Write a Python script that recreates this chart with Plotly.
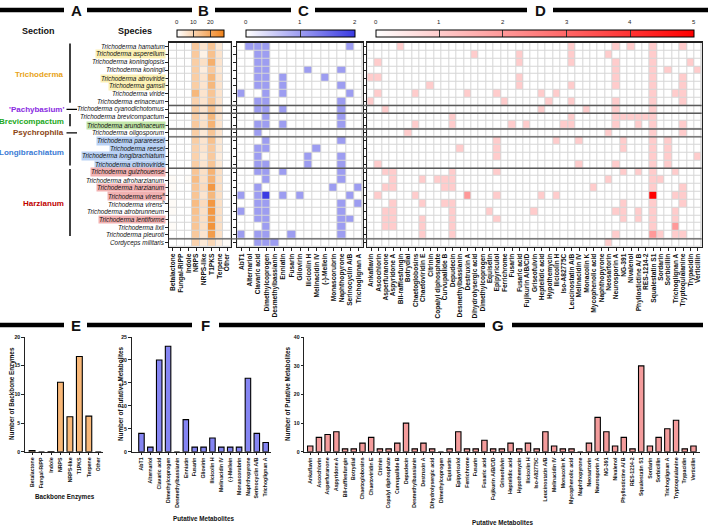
import plotly.graph_objects as go

W, H = 708, 526
def px(x): return x / W
def py(y): return 1 - y / H

FONT = "Liberation Sans, Arial, sans-serif"

# ---------------- data ----------------
species = ["Trichoderma hamatum", "Trichoderma asperellum", "Trichoderma koningiopsis",
           "Trichoderma koningii", "Trichoderma atroviride", "Trichoderma gamsii",
           "Trichoderma viride", "Trichoderma erinaceum", "Trichoderma cyanodichotomus",
           "Trichoderma brevicompactum", "Trichoderma arundinaceum", "Trichoderma oligosporum",
           "Trichoderma parareesei", "Trichoderma reesei", "Trichoderma longibrachiatum",
           "Trichoderma citrinoviride", "Trichoderma guizhouense", "Trichoderma afroharzianum",
           "Trichoderma harzianum", "Trichoderma virens<sup>a</sup>", "Trichoderma virens<sup>b</sup>",
           "Trichoderma atrobrunneum", "Trichoderma lentiforme", "Trichoderma lixii",
           "Trichoderma pleuroti", "Cordyceps militaris"]
highlight = {1: "#FBF0B4", 4: "#FBF0B4", 5: "#FBF0B4", 10: "#C2E6A8",
             12: "#B9D1F4", 13: "#B9D1F4", 14: "#B9D1F4", 15: "#B9D1F4",
             16: "#F2B1B1", 18: "#F2B1B1", 19: "#F2B1B1", 22: "#F2B1B1"}

sections = ["Trichoderma", "'Pachybasium'", "Brevicompactum", "Psychrophila", "Longibrachiatum", "Harzianum"]
section_sizes = [8, 1, 2, 1, 4, 9]
section_colors = ["#E8A317", "#8A2BE2", "#22A822", "#8B4513", "#3A7BD5", "#C00000"]

backbone = ["Betalactone", "Fungal-RiPP", "Indole", "NRPS", "NRPS-like", "T1PKS", "Terpene", "Other"]
backbone_counts = [
    [0, 0, 0, 12, 6, 13, 5, 0], [0, 0, 0, 12, 3, 14, 6, 0], [0, 0, 0, 11, 7, 18, 6, 0],
    [0, 0, 0, 11, 4, 12, 5, 0], [0, 0, 0, 11, 6, 16, 6, 0], [0, 0, 0, 11, 6, 16, 6, 0],
    [0, 0, 0, 16, 6, 13, 6, 0], [0, 0, 0, 10, 6, 13, 6, 0], [0, 0, 0, 11, 6, 14, 6, 0],
    [0, 0, 0, 11, 6, 16, 6, 0], [0, 0, 0, 12, 7, 17, 6, 0], [0, 0, 0, 11, 5, 13, 6, 0],
    [0, 0, 0, 11, 6, 14, 5, 0], [0, 0, 0, 10, 6, 12, 5, 0], [0, 0, 0, 10, 5, 12, 4, 0],
    [0, 0, 0, 11, 6, 13, 5, 0], [0, 0, 0, 13, 7, 17, 7, 0], [1, 0, 1, 15, 7, 17, 7, 0],
    [1, 0, 0, 13, 8, 23, 7, 0], [0, 0, 0, 13, 6, 16, 7, 0], [1, 0, 0, 15, 8, 23, 7, 0],
    [1, 0, 0, 14, 7, 23, 7, 0], [0, 0, 0, 13, 7, 22, 7, 0], [1, 0, 0, 13, 7, 24, 7, 0],
    [0, 0, 0, 12, 6, 22, 7, 0], [0, 0, 0, 10, 5, 9, 4, 1]]

metab_c = ["AbT1", "Alternariol", "Clavaric acid", "Dimethylcoprogen", "Desmethylbassianin",
           "Enniatin", "Fusarin", "Gliovirin", "Ilicicolin H", "Melinacidin IV", "(-)-Mellein",
           "Monascorubrin", "Naphthopyrone", "Serinocyclin A/B", "Trichoglignan A"]
rows_c = ["011100000000010", "001100000000000", "001100000000000", "001100001000100",
          "001101000010000", "001101000000100", "100101000000010", "001100000000100",
          "001101000000100", "000100000000100", "001101000000100", "001000000000000",
          "000100000000100", "001100000100000", "001000001000100", "001100001000100",
          "001101000000100", "000100000000100", "001000000001001", "101201010000010",
          "001100000000101", "101100000000100", "001100000000110", "000100000000100",
          "101100100000100", "001110000000000"]

metab_d = ["Ankaflavin", "Ascochlorin", "Asperfuranone", "Aspyridone A", "BII-rafflesfungin",
           "Botrydial", "Chaetoglobosins", "Chaetoviridin E", "Citrinin", "Copalyl diphosphate",
           "Curvupallide B", "Depudecin", "Desmethylbassianin", "Destruxin A", "Dihydrolysergic acid",
           "Dimethylcoprogen", "Equisetin", "Epipyriculol", "Ferrichrome", "Fusarin",
           "Fusaric acid", "Fujikurin A/B/C/D", "Griseofulvin", "Heptelidic acid", "Hypothemycin",
           "Ilicicolin H", "Iso-A82775C", "Leucinostatin A/B", "Melinacidin IV", "Monacolin K",
           "Mycophenolic acid", "Naphthopyrone", "Neosartorin", "Neurosporin A", "NG-391",
           "Nivalenol", "Phyllostictine A/ B", "RES-1214-2", "Squalestatin S1", "Sordarin",
           "Sorbicillin", "Trichoglignan A", "Tryptoquialanine", "Trypacidin", "Verticillin"]
rows_d = [
    "00001 00000 00000 00000 00000 00100 00010 10010 00100",
    "00000 00000 00001 00000 10000 00100 00100 00010 00000",
    "01000 00000 00000 00000 10000 00100 00010 00010 00010",
    "00000 00000 00000 00000 00000 00000 00010 00010 10001",
    "11000 00000 00000 00000 10000 00000 00010 00010 00100",
    "00000 00010 00000 00000 10000 00100 00010 00010 00100",
    "01000 01000 00010 00100 00010 10000 00000 00010 01100",
    "10000 00000 00000 00010 00001 00100 00010 00010 00100",
    "00100 00000 00000 00000 00010 00001 00010 00010 00000",
    "00000 00000 01000 00000 00000 00100 00011 11110 00000",
    "00000 01000 01000 00001 01000 01100 00010 01010 00100",
    "00000 10000 00000 00000 00000 00000 00100 00010 00100",
    "00000 00000 00000 00100 00000 10010 00001 00010 10000",
    "00000 00000 00100 00100 00000 00000 00001 00010 10000",
    "00000 00000 00000 00100 00000 00000 00000 00010 10001",
    "01000 00000 00000 00000 00000 00010 00010 00010 10000",
    "00110 00000 01000 00100 00000 00000 00001 01010 01000",
    "00010 00101 11000 00000 00000 00000 00100 00011 00000",
    "00110 00000 11000 00000 00000 00000 10000 00010 00100",
    "01000 01000 00020 00100 00010 10000 00000 00050 01100",
    "00010 00100 11000 00000 00000 00000 00001 00010 00100",
    "00110 00000 01000 01000 00100 00000 00011 01010 01000",
    "00110 00100 01000 00100 00000 00000 00001 01010 01000",
    "00110 00100 01000 00000 00000 00000 00000 00010 02000",
    "00000 00100 01000 00000 00000 00000 00010 00021 01100",
    "00000 00000 00000 00000 00000 00000 00100 00000 00000"]

backbone_mean = [0.2, 0, 0.04, 12.1, 6.1, 16.6, 6.2, 0]
metab_c_total = [4, 1, 20, 23, 0, 7, 1, 1, 3, 1, 1, 1, 16, 4, 2]
metab_d_total = [2, 5, 6, 7, 1, 1, 3, 5, 1, 1, 3, 10, 1, 3, 1, 0, 1, 7, 1, 1, 4, 1, 1, 3, 1,
                 3, 1, 7, 2, 1, 1, 0, 3, 12, 7, 2, 5, 1, 30, 2, 5, 8, 11, 1, 2]

z_c = [[int(ch) for ch in r.replace(" ", "")] for r in rows_c]
z_d = [[int(ch) for ch in r.replace(" ", "")] for r in rows_d]

# ---------------- figure ----------------
fig = go.Figure()

HEAT_TOP, HEAT_BOT = 42.7, 246.7
cbars = {  # x0, len(px), zmax, ticks
    "B": (176.7, 47.3, 28, [0, 10, 20]),
    "C": (245.7, 109.3, 2, [0, 1, 2]),
    "D": (375.7, 318.3, 5, [0, 1, 2, 3, 4, 5]),
}

def colorbar(key):
    x0, L, zmax, ticks = cbars[key]
    return dict(orientation="h", x=px(x0), xanchor="left", y=py(30), yanchor="top",
                len=L, lenmode="pixels", thickness=7, thicknessmode="pixels",
                xpad=0, ypad=0, outlinewidth=1, outlinecolor="black",
                ticks="inside", ticklen=7, tickcolor="#333", tickwidth=1,
                tickvals=[t for t in ticks if 0 < t < zmax], showticklabels=False)

fig.add_trace(go.Heatmap(z=backbone_counts, x=backbone, y=species, xaxis="x", yaxis="y",
                         colorscale=[[0, "#FFFFFF"], [1, "#F0821A"]], zmin=0, zmax=cbars["B"][2],
                         xgap=1, ygap=1, colorbar=colorbar("B"), hoverinfo="skip"))
fig.add_trace(go.Heatmap(z=z_c, x=metab_c, y=species, xaxis="x2", yaxis="y2",
                         colorscale=[[0, "#FFFFFF"], [1, "#3B3BE3"]], zmin=0, zmax=cbars["C"][2],
                         xgap=1, ygap=1, colorbar=colorbar("C"), hoverinfo="skip"))
fig.add_trace(go.Heatmap(z=z_d, x=metab_d, y=species, xaxis="x3", yaxis="y3",
                         colorscale=[[0, "#FFFFFF"], [1, "#FF0000"]], zmin=0, zmax=cbars["D"][2],
                         xgap=1, ygap=1, colorbar=colorbar("D"), hoverinfo="skip"))

bar_line = dict(color="black", width=1.1)
fig.add_trace(go.Bar(x=backbone, y=backbone_mean, xaxis="x4", yaxis="y4", width=0.62,
                     marker=dict(color="#F9B878", line=bar_line)))
fig.add_trace(go.Bar(x=metab_c, y=metab_c_total, xaxis="x5", yaxis="y5", width=0.62,
                     marker=dict(color="#8585F2", line=bar_line)))
fig.add_trace(go.Bar(x=metab_d, y=metab_d_total, xaxis="x6", yaxis="y6", width=0.62,
                     marker=dict(color="#F49C9C", line=bar_line)))

tickf_heat = dict(size=6.6, family=FONT, color="#111", weight="bold")
tickf_bar = dict(size=5.2, family=FONT, color="#111", weight="bold")

def heat_x(x0, x1, cats, anchor):
    return dict(domain=[px(x0), px(x1)], anchor=anchor, type="category", range=[-0.5, len(cats) - 0.5],
                tickmode="array", tickvals=cats, ticktext=cats,
                tickangle=-90, ticks="outside", ticklen=3, tickwidth=1, tickcolor="#222",
                tickfont=tickf_heat, showline=True, linecolor="#222", linewidth=1.3, mirror=True,
                showgrid=False, zeroline=False, automargin=False)

def heat_y(anchor):
    return dict(domain=[py(HEAT_BOT), py(HEAT_TOP)], anchor=anchor, type="category",
                range=[len(species) - 0.5, -0.5], tickmode="array", tickvals=species,
                ticks="outside", ticklen=3, tickwidth=1,
                tickcolor="#222", showticklabels=False, showline=True, linecolor="#222",
                linewidth=1.3, mirror=True, showgrid=False, zeroline=False, automargin=False)

def bar_x(x0, x1, rng, cats, anchor):
    return dict(domain=[px(x0), px(x1)], anchor=anchor, type="category", range=rng,
                tickmode="array", tickvals=cats, ticktext=cats,
                tickangle=-90, ticks="outside", ticklen=2.5, tickwidth=1, tickcolor="#222",
                tickfont=tickf_bar, showline=True, linecolor="#222", linewidth=1.2,
                showgrid=False, zeroline=False, automargin=False)

def bar_y(top, rng, dtick, anchor):
    return dict(domain=[py(451.7), py(top)], anchor=anchor, range=rng, dtick=dtick, tick0=0,
                ticks="outside", ticklen=2.5, tickwidth=1, tickcolor="#222", tickfont=tickf_bar,
                showline=True, linecolor="#222", linewidth=1.2, showgrid=False, zeroline=False,
                automargin=False)

fig.update_layout(
    width=W, height=H, margin=dict(l=0, r=0, t=0, b=0, pad=0), autosize=False,
    paper_bgcolor="white", plot_bgcolor="white", showlegend=False,
    font=dict(family=FONT, color="#111"),
    xaxis=heat_x(169, 231, backbone, "y"), yaxis=heat_y("x"),
    xaxis2=heat_x(237.3, 362.7, metab_c, "y2"), yaxis2=heat_y("x2"),
    xaxis3=heat_x(367.3, 701.7, metab_d, "y3"), yaxis3=heat_y("x3"),
    xaxis4=bar_x(25, 103, [-0.75, 7.5], backbone, "y4"), yaxis4=bar_y(337, [0, 20], 5, "x4"),
    xaxis5=bar_x(131.7, 271, [-1.1, 14.6], metab_c, "y5"), yaxis5=bar_y(337, [0, 25], 5, "x5"),
    xaxis6=bar_x(304.3, 700, [-0.68, 44.75], metab_d, "y6"), yaxis6=bar_y(337.3, [0, 40], 10, "x6"),
)

shapes = []
annots = []

# gray grid behind heatmap cells
for xa, ya in [("x", "y"), ("x2", "y2"), ("x3", "y3")]:
    shapes.append(dict(type="rect", xref=f"{xa} domain", yref=f"{ya} domain", x0=0, x1=1, y0=0, y1=1,
                       fillcolor="#D6D6D6", line=dict(width=0), layer="below"))

# section separators, brackets and labels
start = 0
for name, size, col in zip(sections, section_sizes, section_colors):
    end = start + size - 1
    shapes.append(dict(type="line", xref="paper", yref="y", x0=px(169), x1=px(701.7),
                       y0=end + 0.5, y1=end + 0.5, line=dict(color="#5A5A5A", width=1.4)))
    if size > 1:
        shapes.append(dict(type="line", xref="paper", yref="y", x0=px(70), x1=px(70),
                           y0=start - 0.4, y1=end + 0.15, line=dict(color="black", width=1.5)))
    else:
        shapes.append(dict(type="line", xref="paper", yref="y", x0=px(66.5), x1=px(77),
                           y0=start, y1=start, line=dict(color="black", width=1.2)))
    annots.append(dict(text=f"<b>{name}</b>", xref="paper", yref="y", x=px(65.5), y=(start + end) / 2,
                       xanchor="right", yanchor="middle", showarrow=False,
                       font=dict(size=8, color=col, family=FONT)))
    start = end + 1

# species labels
for i, s in enumerate(species):
    annots.append(dict(text=f"<i>{s}</i>", xref="paper", yref="y", x=px(166), y=i,
                       xanchor="right", yanchor="middle", showarrow=False,
                       bgcolor=highlight.get(i, "rgba(0,0,0,0)"), borderpad=0,
                       font=dict(size=6.4, color="#111", family=FONT)))

# colorbar tick labels
for key, (x0, L, zmax, ticks) in cbars.items():
    for t in ticks:
        annots.append(dict(text=str(t), xref="paper", yref="paper", x=px(x0 + t / zmax * L), y=py(27),
                           xanchor="center", yanchor="bottom", showarrow=False,
                           font=dict(size=6, color="#222", family=FONT)))

# column headers
for txt, x in [("Section", 38), ("Species", 135)]:
    annots.append(dict(text=f"<b>{txt}</b>", xref="paper", yref="paper", x=px(x), y=py(31),
                       xanchor="center", yanchor="middle", showarrow=False,
                       font=dict(size=9, color="#111", family=FONT)))

# panel letters and thick header bars
for letter, x, yy in [("A", 76, 10), ("B", 203, 10), ("C", 303, 10), ("D", 540, 10),
                      ("E", 76, 325), ("F", 205, 325), ("G", 498, 325)]:
    annots.append(dict(text=f"<b>{letter}</b>", xref="paper", yref="paper", x=px(x), y=py(yy),
                       xanchor="center", yanchor="middle", showarrow=False,
                       font=dict(size=15, color="#111", family=FONT)))
for x0, x1, yy in [(0, 64, 10), (87, 192, 10), (215, 291, 10), (315, 527, 10), (553, 708, 10),
                   (0, 64, 325), (87, 192, 325), (219, 485, 325), (512, 703, 325)]:
    shapes.append(dict(type="line", xref="paper", yref="paper", x0=px(x0), x1=px(x1),
                       y0=py(yy), y1=py(yy), line=dict(color="black", width=4.5)))

# bar chart axis titles
for txt, x, y, ang in [("Number of Backbone Enzymes", 12, 394, -90),
                       ("Number of Putative Metabolites", 120, 394, -90),
                       ("Number of Putative Metabolites", 287, 394, -90),
                       ("Backbone Enzymes", 65, 497, 0),
                       ("Putative Metabolites", 203, 518, 0),
                       ("Putative Metabolites", 502, 522, 0)]:
    annots.append(dict(text=f"<b>{txt}</b>", xref="paper", yref="paper", x=px(x), y=py(y),
                       xanchor="center", yanchor="middle", textangle=ang, showarrow=False,
                       font=dict(size=6.3, color="#111", family=FONT)))

fig.update_layout(shapes=shapes, annotations=annots)
fig.write_html("out.html",
               config={"displayModeBar": False, "staticPlot": True},
               post_script="document.body.style.margin='0px';document.body.style.padding='0px';"
                           "document.body.style.overflow='hidden';")
